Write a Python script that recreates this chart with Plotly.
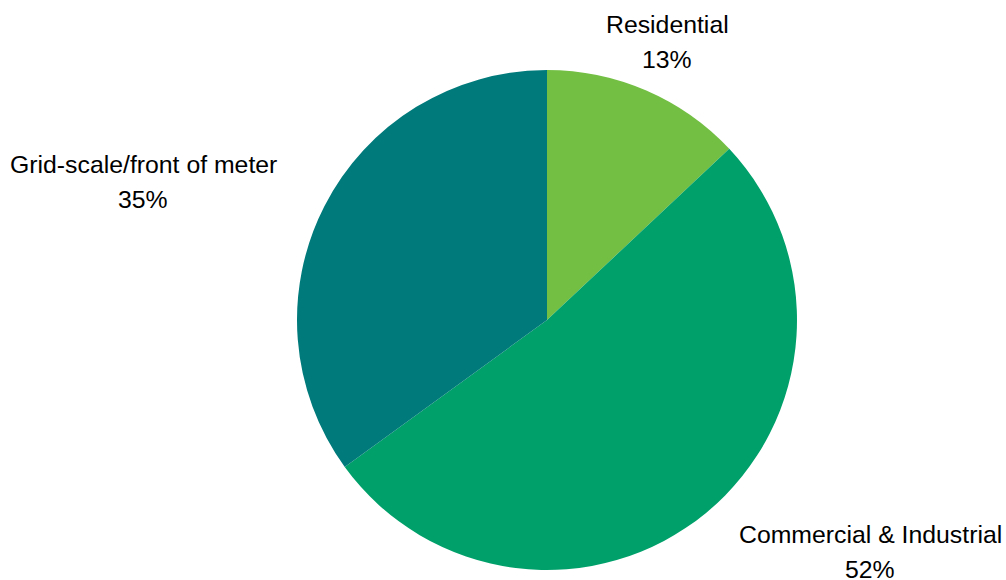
import plotly.graph_objects as go

# Market share by segment
segments = ["Residential", "Commercial & Industrial", "Grid-scale/front of meter"]
shares = [13, 52, 35]
colors = ["#72BF44", "#00A06A", "#007A7B"]

# Label anchor points (pixel centre x, first-line centre y) for each segment
label_x_px = [667, 870, 143]
label_y_px = [24.5, 534.5, 164.5]
LINE_GAP = 35

W, H = 1006, 580
M_L, M_R, M_T, M_B = 297, 209, 70, 10
PW, PH = W - M_L - M_R, H - M_T - M_B

fig = go.Figure(
    go.Pie(
        labels=segments,
        values=shares,
        marker=dict(colors=colors, line=dict(width=0)),
        sort=False,
        direction="clockwise",
        rotation=0,
        textinfo="none",
        showlegend=False,
    )
)

total = sum(shares)
annotations = []
for name, val, px, py in zip(segments, shares, label_x_px, label_y_px):
    pct = f"{round(100 * val / total)}%"
    for i, txt in enumerate([name, pct]):
        annotations.append(
            dict(
                text=txt,
                xref="paper",
                yref="paper",
                x=(px - M_L) / PW,
                y=(H - M_B - (py + i * LINE_GAP)) / PH,
                xanchor="center",
                yanchor="middle",
                showarrow=False,
                font=dict(family="Liberation Sans, Arial, sans-serif", size=24.8, color="#000000"),
            )
        )

fig.update_layout(
    width=W,
    height=H,
    margin=dict(l=M_L, r=M_R, t=M_T, b=M_B),
    paper_bgcolor="white",
    plot_bgcolor="white",
    annotations=annotations,
)

fig.write_html("out.html")
